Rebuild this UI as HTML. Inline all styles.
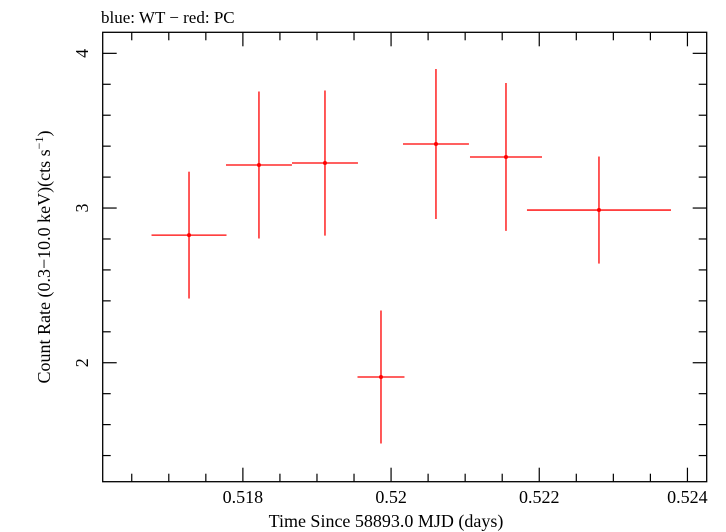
<!DOCTYPE html>
<html><head><meta charset="utf-8"><style>
html,body{margin:0;padding:0;background:#fff;}
svg{display:block;font-family:"Liberation Serif",serif;}
</style></head><body>
<svg id="chart" width="726" height="532" viewBox="0 0 726 532" xmlns="http://www.w3.org/2000/svg">
<text x="101" y="23" font-size="17" fill="#000">blue: WT − red: PC</text>
<rect x="102.7" y="32.3" width="604" height="449.4" fill="none" stroke="#000" stroke-width="1.3"/>
<g id="axes"></g>
<g id="marks"></g>
<text x="386" y="527" font-size="18" text-anchor="middle">Time Since 58893.0 MJD (days)</text>
<text transform="translate(50,257) rotate(-90)" font-size="18" text-anchor="middle">Count Rate (0.3−10.0 keV)(cts s<tspan font-size="12" dy="-7">−1</tspan><tspan dy="7">)</tspan></text>
</svg>
<script>
const times = [0.517273, 0.518217, 0.519108, 0.519864, 0.520606, 0.521551, 0.522806];
const timeErrs = [0.000506, 0.000445, 0.000445, 0.000317, 0.000445, 0.000486, 0.000972];
const rates = [2.825, 3.278, 3.291, 1.908, 3.414, 3.330, 2.987];
const rateErrs = [0.41, 0.475, 0.469, 0.43, 0.485, 0.478, 0.346];
const xTickValues = [0.518, 0.520, 0.522, 0.524];
const xTickLabels = ["0.518", "0.52", "0.522", "0.524"];
const yTickValues = [2, 3, 4];
const yTickLabels = ["2", "3", "4"];

const L=102.7,R=706.7,T=32.3,B=481.7;
const xMin=0.516108,xMax=0.52426,yMin=1.231,yMax=4.136;
const xs=v=>L+(v-xMin)/(xMax-xMin)*(R-L);
const ys=v=>B-(v-yMin)/(yMax-yMin)*(B-T);
const NS="http://www.w3.org/2000/svg";
function mk(tag,attrs,parent){const e=document.createElementNS(NS,tag);for(const k in attrs)e.setAttribute(k,attrs[k]);parent.appendChild(e);return e;}
const axes=document.getElementById('axes');
const marks=document.getElementById('marks');
for(let v=0.5165;v<=xMax+1e-9;v+=0.0005){
  const major=Math.abs((v*1000)%2)<1e-6||Math.abs((v*1000)%2-2)<1e-6;
  const len=major?14:8;const x=xs(v);
  const t1=mk('line',{x1:x,x2:x,y1:B,y2:B-len,stroke:'#000','stroke-width':1.2},axes);
  
  
  const t2=mk('line',{x1:x,x2:x,y1:T,y2:T+len,stroke:'#000','stroke-width':1.2},axes);
  
  
}
xTickValues.forEach((v,i)=>{
  const t=mk('text',{x:xs(v),y:B+21.5,'font-size':18,'text-anchor':'middle'},axes);
  t.textContent=xTickLabels[i];
  
  
});
for(let k=7;k<=20;k++){
  const v=k*0.2;if(v<yMin||v>yMax)continue;
  const major=k%5===0;const len=major?14:8;const y=ys(v);
  const t1=mk('line',{x1:L,x2:L+len,y1:y,y2:y,stroke:'#000','stroke-width':1.2},axes);
  
  
  const t2=mk('line',{x1:R,x2:R-len,y1:y,y2:y,stroke:'#000','stroke-width':1.2},axes);
  
  
}
yTickValues.forEach((v,i)=>{
  const y=ys(v);
  const t=mk('text',{x:0,y:0,'font-size':18,'text-anchor':'middle',transform:`translate(88,${y}) rotate(-90)`},axes);
  t.textContent=yTickLabels[i];
  
  
});
times.forEach((t,i)=>{
  const g=mk('g',{},marks);
  
  
  mk('line',{x1:xs(t-timeErrs[i]),x2:xs(t+timeErrs[i]),y1:ys(rates[i]),y2:ys(rates[i]),stroke:'#f00','stroke-width':1.3},g);
  mk('line',{x1:xs(t),x2:xs(t),y1:ys(rates[i]-rateErrs[i]),y2:ys(rates[i]+rateErrs[i]),stroke:'#f00','stroke-width':1.3},g);
  mk('circle',{cx:xs(t),cy:ys(rates[i]),r:2,fill:'#f00'},g);
});
</script>
</body></html>
